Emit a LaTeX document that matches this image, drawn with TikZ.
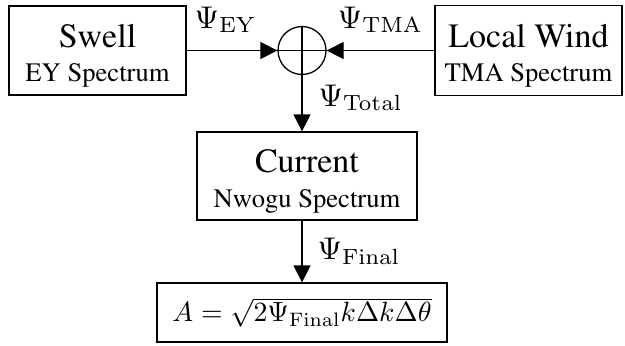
\documentclass[tikz,border=0pt]{standalone}
\usepackage[T1]{fontenc}
\usepackage{times}
\usepackage{graphicx}
\usepackage{tikz}
\usetikzlibrary{positioning, arrows.meta}
\tikzstyle{block}=[draw,fill=white,rectangle,align=center,inner sep=0pt,line width=0.65pt,font=\fontsize{13.3}{17.25}\selectfont]
\tikzstyle{lbl}=[inner sep=0pt,font=\normalsize]
\newcommand{\bigtxt}[1]{{\fontsize{17}{17.25}\selectfont\rule{0pt}{17pt}#1}}
\newcommand{\lblmath}[1]{\scalebox{1.57}{$#1$}}

\begin{document}
\begin{tikzpicture}[x=0.5pt,y=-0.5pt,>={Triangle[length=8.5pt,width=8.5pt]},line width=0.65pt]
    \useasboundingbox (0,0) rectangle (625,345);
    \node[block, minimum width=88.5pt, minimum height=44.5pt] (swell) at (97.5,50.5) {\bigtxt{Swell}\\EY Spectrum};
    \node[block, minimum width=93.5pt, minimum height=45pt] (wind) at (528.5,50.5) {\bigtxt{Local Wind}\\TMA Spectrum};
    \node[block, circle, minimum size=24pt] (sum) at (302,50.5) {};
    \node[block, minimum width=110pt, minimum height=44pt] (cur) at (307,176) {\bigtxt{Current}\\Nwogu Spectrum};
    \node[block, minimum width=145pt, minimum height=29.5pt] (amp) at (302,312.5) {\scalebox{1.39}{\normalsize$A=\sqrt{2\Psi_{\mathrm{Final}}k\Delta k\Delta\theta}$}};
    \draw (sum.north) -- (sum.south);
    \draw (sum.west) -- (sum.east);
    \draw[->] (swell) -- node[lbl, pos=0.43, above=8.5pt] {\lblmath{\Psi_{\mathrm{EY}}}} (sum);
    \draw[->] (wind) -- node[lbl, above=8.5pt] {\lblmath{\Psi_{\mathrm{TMA}}}} (sum);
    \draw[->] (sum) -- node[lbl, pos=0.4, right=8pt] {\lblmath{\Psi_{\mathrm{Total}}}} (sum |- cur.north);
    \draw[->] (cur.south -| sum) -- node[lbl, right=7.5pt] {\lblmath{\Psi_{\mathrm{Final}}}} (amp.north -| sum);
\end{tikzpicture}
\end{document}
